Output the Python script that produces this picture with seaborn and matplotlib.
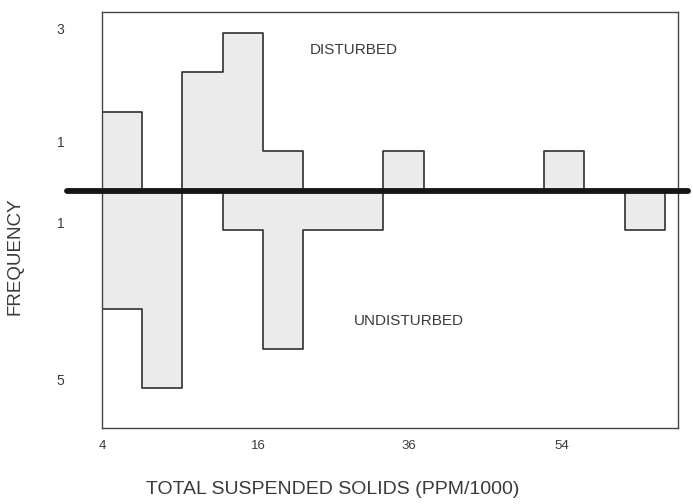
import matplotlib
matplotlib.use("Agg")
import matplotlib.pyplot as plt
import numpy as np
import pandas as pd
import seaborn as sns

# bins are drawn in "bin index" units, 14 equal-width classes
n_bins = 14
bin_mid = np.arange(n_bins) + 0.5

# frequencies
disturbed = [2, 0, 3, 4, 1, 0, 0, 1, 0, 0, 0, 1, 0, 0]
undisturbed = [3, 5, 0, 1, 4, 1, 1, 0, 0, 0, 0, 0, 0, 1]

# tick labels as printed on the original
x_tick_pos = [0, 3.88, 7.64, 11.44]
x_tick_lab = ["4", "16", "36", "54"]
y_tick_pos = [4.11, 1.23, -0.80, -4.77]
y_tick_lab = ["3", "1", "1", "5"]

df = pd.DataFrame({"bin": bin_mid,
                   "up": np.array(disturbed, dtype=float),
                   "down": -np.array(undisturbed, dtype=float)})

sns.set_theme(style="white")
plt.rcParams["font.family"] = ["Liberation Sans", "DejaVu Sans"]
txt = "#3a3a3a"

fig = plt.figure(figsize=(6.93, 5.04), dpi=100)
ax = fig.add_axes([0.1472, 0.1508, 0.8312, 0.8254])

fill = "#ebebeb"
edge = "#303030"
for col in ["up", "down"]:
    sns.histplot(data=df, x="bin", weights=col, binwidth=1,
                 binrange=(0, n_bins), element="step", fill=True,
                 color=fill, edgecolor=edge, linewidth=1.2, alpha=1, ax=ax)

# heavy baseline separating the two groups
ax.axhline(0, xmin=-0.061, xmax=1.017, color="#151515", lw=4.2,
           clip_on=False, zorder=5)

ax.set_xlim(0, 14.33)
ax.set_ylim(-6.01, 4.52)

ax.set_xticks(x_tick_pos)
ax.set_xticklabels(x_tick_lab)
ax.set_yticks(y_tick_pos)
ax.set_yticklabels(y_tick_lab)
ax.tick_params(axis="x", length=0, pad=9, labelsize=9.5, labelcolor=txt)
ax.tick_params(axis="y", length=0, pad=27, labelsize=10, labelcolor=txt)

for s in ax.spines.values():
    s.set_color("#444444")
    s.set_linewidth(1.0)

ax.text(6.27, 3.56, "DISTURBED", fontsize=11, color=txt,
        ha="center", va="center")
ax.text(7.64, -3.30, "UNDISTURBED", fontsize=11, color=txt,
        ha="center", va="center")

ax.set_xlabel("TOTAL SUSPENDED SOLIDS (PPM/1000)", fontsize=14, color=txt)
ax.set_ylabel("FREQUENCY", fontsize=13.5, color=txt)
ax.xaxis.label.set_va("center")
ax.yaxis.label.set_va("center")
ax.xaxis.set_label_coords(0.40, -0.149)
ax.yaxis.set_label_coords(-0.151, 0.413)

plt.savefig("out.png", dpi=100)
